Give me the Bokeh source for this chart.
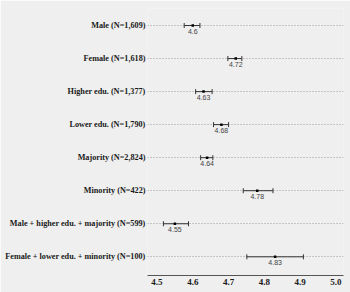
from bokeh.plotting import figure
from bokeh.models import ColumnDataSource, FixedTicker, Whisker, Range1d
from bokeh.core.properties import value
from bokeh.embed import file_html
from bokeh.resources import INLINE

groups = ["Male (N=1,609)", "Female (N=1,618)", "Higher edu. (N=1,377)", "Lower edu. (N=1,790)",
          "Majority (N=2,824)", "Minority (N=422)", "Male + higher edu. + majority (N=599)",
          "Female + lower edu. + minority (N=100)"]
means = [4.60, 4.72, 4.63, 4.68, 4.64, 4.78, 4.55, 4.83]
lower = [4.576, 4.698, 4.608, 4.658, 4.622, 4.741, 4.518, 4.751]
upper = [4.620, 4.737, 4.654, 4.700, 4.656, 4.824, 4.588, 4.909]
mean_labels = ["4.6", "4.72", "4.63", "4.68", "4.64", "4.78", "4.55", "4.83"]
x_ticks = [4.5, 4.6, 4.7, 4.8, 4.9, 5.0]
x_tick_labels = ["4.5", "4.6", "4.7", "4.8", "4.9", "5.0"]

n = len(groups)
ypos = [n - 1 - i for i in range(n)]

src = ColumnDataSource(dict(y=ypos, m=means, lo=lower, hi=upper, lab=mean_labels, g=groups))

bg = "#efefef"
p = figure(width=350, height=292, output_backend="svg", toolbar_location=None,
           x_range=Range1d(4.4735, 5.021), y_range=Range1d(-0.566, 7.515),
           min_border_left=147, min_border_right=7, min_border_top=8, min_border_bottom=17,
           background_fill_color=bg, border_fill_color=bg)
p.outline_line_color = None

# grid
p.xgrid.grid_line_color = None
p.ygrid.ticker = FixedTicker(ticks=ypos)
p.ygrid.grid_line_color = "#9a9a9a"
p.ygrid.grid_line_dash = "1 2"
p.ygrid.grid_line_width = 1

# y axis (group labels)
p.yaxis.ticker = FixedTicker(ticks=ypos)
p.yaxis.major_label_overrides = {y: g for y, g in zip(ypos, groups)}
p.yaxis.axis_line_color = None
p.yaxis.major_tick_line_color = None
p.yaxis.major_tick_out = 0
p.yaxis.major_tick_in = 0
p.yaxis.minor_tick_line_color = None
p.yaxis.minor_tick_out = 0
p.yaxis.major_label_standoff = 2
p.yaxis.major_label_text_font = "Liberation Serif"
p.yaxis.major_label_text_font_style = "bold"
p.yaxis.major_label_text_font_size = "8.2px"
p.yaxis.major_label_text_color = "#1a1a1a"

# x axis
p.xaxis.ticker = FixedTicker(ticks=x_ticks)
p.xaxis.major_label_overrides = {t: l for t, l in zip(x_ticks, x_tick_labels)}
p.xaxis.axis_line_color = "#555555"
p.xaxis.axis_line_width = 1
p.xaxis.major_tick_line_color = None
p.xaxis.major_tick_out = 0
p.xaxis.minor_tick_line_color = None
p.xaxis.minor_tick_out = 0
p.xaxis.major_label_standoff = 3
p.xaxis.major_label_text_font = "Liberation Serif"
p.xaxis.major_label_text_font_style = "bold"
p.xaxis.major_label_text_font_size = "9px"
p.xaxis.major_label_text_color = "#1a1a1a"

# error bars
w = Whisker(source=src, base="y", lower="lo", upper="hi", dimension="width",
            line_color="#333333", line_width=1)
w.lower_head.size = 5
w.upper_head.size = 5
w.lower_head.line_color = "#333333"
w.upper_head.line_color = "#333333"
p.add_layout(w)

p.scatter("m", "y", source=src, marker="square", size=2.5, line_width=0, color="#000000")

p.text("m", "y", text="lab", source=src, y_offset=3, text_align="center", text_baseline="top",
       text_font=value("Liberation Sans"), text_font_size="7px", text_color="#444444")

open("out.html", "w").write(file_html(p, INLINE))
